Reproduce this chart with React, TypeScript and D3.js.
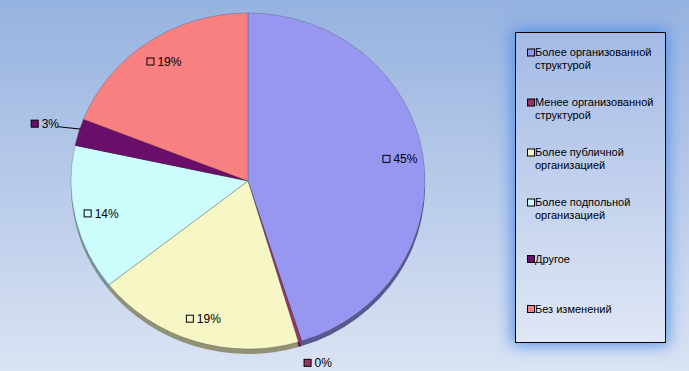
import React, { useRef, useEffect } from 'react';
import { select, pie, arc, format, color } from 'd3';

const categories = [
  'Более организованной структурой',
  'Менее организованной структурой',
  'Более публичной организацией',
  'Более подпольной организацией',
  'Другое',
  'Без изменений',
];
const values = [45.1, 0.3, 19.0, 14.0, 2.6, 19.0];
const colors = ['#9797f2', '#993366', '#f7f7c6', '#ccfcfc', '#6a0e6a', '#f88080'];

const dims = {
  width: 689,
  height: 371,
  cx: 248,
  cy: 181,
  rx: 177,
  ry: 168,
  depth: 5,
  legendX: 515,
  legendY: 32,
  legendW: 150,
  legendH: 310,
};

const FONT = '"Liberation Sans", Arial, sans-serif';

const App = () => {
  const svgRef = useRef<SVGSVGElement>(null);

  useEffect(() => {
    const svg = select(svgRef.current);
    svg.selectAll('*').remove();

    const defs = svg.append('defs');
    const bg = defs.append('linearGradient').attr('id', 'bg').attr('x1', 0).attr('y1', 0).attr('x2', 0).attr('y2', 1);
    bg.append('stop').attr('offset', '0%').attr('stop-color', '#96b2e0');
    bg.append('stop').attr('offset', '100%').attr('stop-color', '#dae3f3');
    const lg = defs.append('linearGradient').attr('id', 'lg').attr('x1', 0).attr('y1', 0).attr('x2', 0).attr('y2', 1);
    lg.append('stop').attr('offset', '0%').attr('stop-color', '#a4bae5');
    lg.append('stop').attr('offset', '100%').attr('stop-color', '#e0e7f5');
    defs.append('filter').attr('id', 'glow').attr('x', '-40%').attr('y', '-40%').attr('width', '180%').attr('height', '180%')
      .append('feGaussianBlur').attr('stdDeviation', 8);

    svg.append('rect').attr('width', dims.width).attr('height', dims.height).attr('fill', 'url(#bg)');

    const total = values.reduce((a, b) => a + b, 0);
    const pct = format('.0%');
    const arcs = pie<number>().sort(null).value((d) => d)(values);
    const r = dims.rx;
    const k = dims.ry / dims.rx;
    const arcGen = arc<any>().innerRadius(0).outerRadius(r);

    // side (depth) of pie
    svg.append('g')
      .attr('transform', `translate(${dims.cx},${dims.cy + dims.depth}) scale(1,${k})`)
      .selectAll('path')
      .data(arcs)
      .join('path')
      .attr('d', arcGen)
      .attr('fill', (_, i) => color(colors[i])!.darker(1.5).toString());

    // top of pie
    svg.append('g')
      .attr('transform', `translate(${dims.cx},${dims.cy}) scale(1,${k})`)
      .selectAll('path')
      .data(arcs)
      .join('path')
      .attr('d', arcGen)
      .attr('fill', (_, i) => colors[i])
      .attr('stroke', '#3a3a4a')
      .attr('stroke-opacity', 0.4)
      .attr('stroke-width', 0.7)
      .attr('vector-effect', 'non-scaling-stroke');

    // labels
    const labels = svg.append('g').attr('font-family', FONT).attr('font-size', 12).attr('fill', '#000');
    arcs.forEach((a, i) => {
      const mid = (a.startAngle + a.endAngle) / 2;
      const sx = Math.sin(mid);
      const sy = -Math.cos(mid);
      const text = pct(values[i] / total);
      const w = 7 + 4 + text.length * 7;
      let lx: number;
      let ly: number;
      const small = values[i] / total < 0.05;
      if (!small) {
        lx = dims.cx + sx * r * 0.86;
        ly = dims.cy + sy * dims.ry * 0.86;
      } else {
        const leader = values[i] > 1;
        const gap = leader ? 24 : 12;
        const ex = dims.cx + sx * r;
        const ey = dims.cy + sy * dims.ry + (sy > 0 ? dims.depth : 0);
        lx = ex + sx * gap + Math.sign(sx) * (w / 2);
        ly = ey + sy * gap + sy * 5;
        if (leader) {
          labels.append('polyline')
            .attr('points', `${lx + w / 2 + 2},${ly + 3} ${ex + 2},${ey - 3}`)
            .attr('fill', 'none')
            .attr('stroke', '#000')
            .attr('stroke-width', 1);
        }
      }
      const x0 = lx - w / 2;
      labels.append('rect')
        .attr('x', x0 + 0.5).attr('y', ly - 3.5)
        .attr('width', 7).attr('height', 7)
        .attr('fill', colors[i]).attr('stroke', '#000').attr('stroke-width', 1);
      labels.append('text')
        .attr('x', x0 + 11).attr('y', ly).attr('dy', '0.36em')
        .text(text);
    });

    // legend
    const leg = svg.append('g');
    leg.append('rect')
      .attr('x', dims.legendX - 3).attr('y', dims.legendY - 3)
      .attr('width', dims.legendW + 6).attr('height', dims.legendH + 6)
      .attr('fill', '#5592e8').attr('filter', 'url(#glow)');
    leg.append('rect')
      .attr('x', dims.legendX + 0.5).attr('y', dims.legendY + 0.5)
      .attr('width', dims.legendW).attr('height', dims.legendH)
      .attr('fill', 'url(#lg)').attr('stroke', '#000').attr('stroke-width', 1);

    const step = 50;
    categories.forEach((c, i) => {
      const cyc = dims.legendY + 27 + i * step;
      let lines = [c];
      if (c.length > 15) {
        const p = c.lastIndexOf(' ');
        lines = [c.slice(0, p), c.slice(p + 1)];
      }
      const top = cyc - ((lines.length - 1) * 13) / 2;
      leg.append('rect')
        .attr('x', dims.legendX + 12.5).attr('y', top - 3.5)
        .attr('width', 7).attr('height', 7)
        .attr('fill', colors[i]).attr('stroke', '#000').attr('stroke-width', 1);
      lines.forEach((l, j) => {
        leg.append('text')
          .attr('x', dims.legendX + 20).attr('y', top + j * 13).attr('dy', '0.36em')
          .attr('font-family', FONT).attr('font-size', 11).attr('fill', '#000')
          .text(l);
      });
    });
  }, []);

  return (
    <svg
      ref={svgRef}
      width={dims.width}
      height={dims.height}
      style={{ position: 'absolute', left: 0, top: 0, display: 'block' }}
    ></svg>
  );
};

export default App;
